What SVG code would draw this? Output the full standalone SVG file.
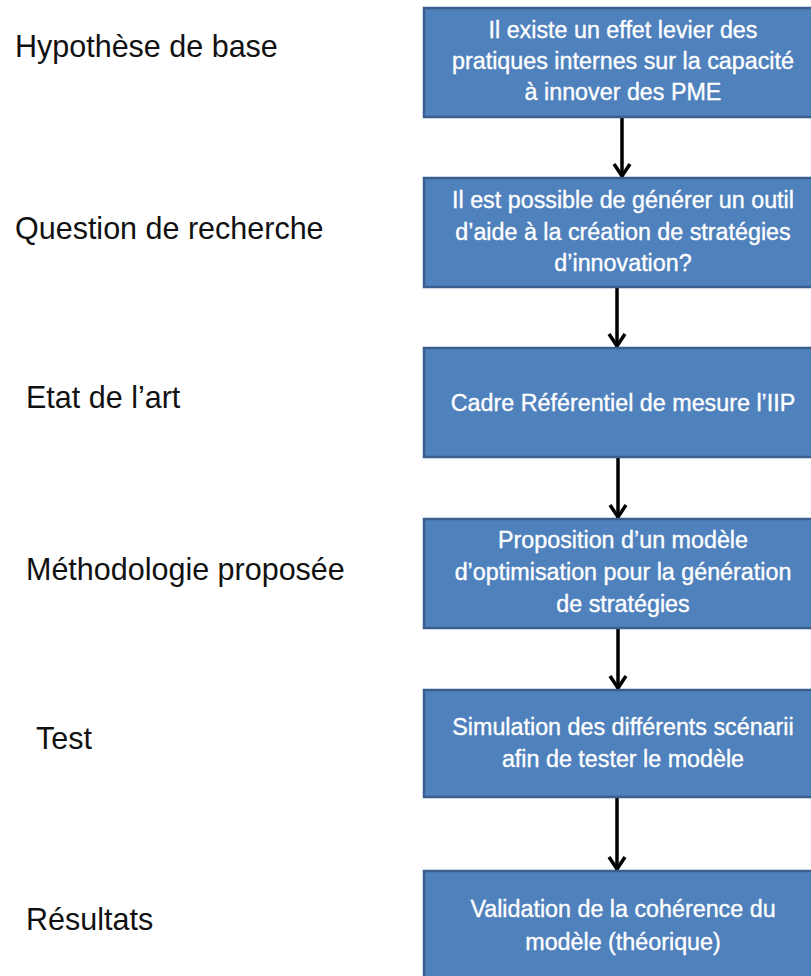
<svg xmlns="http://www.w3.org/2000/svg" width="811" height="976" viewBox="0 0 811 976">
<defs>
<style>
.lbl{font-family:"Liberation Sans",Arial,sans-serif;font-size:30.5px;fill:#111;}
.box{fill:#4F81BD;stroke:#3A5F8E;stroke-width:2.5;}
.bt{font-family:"Liberation Sans",Arial,sans-serif;font-size:23.3px;fill:#fff;stroke:#fff;stroke-width:0.35;text-anchor:middle;}
.conn{stroke:#000;stroke-width:3.5;fill:none;marker-end:url(#ah);}
</style>
<marker id="ah" markerUnits="userSpaceOnUse" viewBox="0 0 16 20" refX="15" refY="10" markerWidth="16" markerHeight="20" orient="auto">
<path d="M2 2 L14 10 L2 18" fill="none" stroke="#000" stroke-width="3.5"/>
</marker>
</defs>
<rect width="811" height="976" fill="#fff"/>
<g id="labels">
<text class="lbl" x="15" y="57">Hypothèse de base</text>
<text class="lbl" x="15" y="239">Question de recherche</text>
<text class="lbl" x="26" y="408">Etat de l’art</text>
<text class="lbl" x="26" y="580">Méthodologie proposée</text>
<text class="lbl" x="36" y="749">Test</text>
<text class="lbl" x="26" y="930">Résultats</text>
</g>
<g id="connectors">
<line class="conn" x1="622" y1="118" x2="622" y2="177"/>
<line class="conn" x1="617" y1="288" x2="617" y2="347"/>
<line class="conn" x1="618" y1="458" x2="618" y2="518"/>
<line class="conn" x1="618" y1="629" x2="618" y2="689"/>
<line class="conn" x1="617" y1="798" x2="617" y2="870"/>
</g>
<g id="n1">
<rect class="box" x="424" y="8" width="400" height="109"/>
<text class="bt" x="623" y="38">Il existe un effet levier des</text>
<text class="bt" x="623" y="69">pratiques internes sur la capacité</text>
<text class="bt" x="623" y="100">à innover des PME</text>
</g>
<g id="n2">
<rect class="box" x="424" y="178" width="400" height="109"/>
<text class="bt" x="623" y="208">Il est possible de générer un outil</text>
<text class="bt" x="623" y="240">d’aide à la création de stratégies</text>
<text class="bt" x="623" y="271">d’innovation?</text>
</g>
<g id="n3">
<rect class="box" x="424" y="348" width="400" height="109"/>
<text class="bt" x="623" y="411">Cadre Référentiel de mesure l’IIP</text>
</g>
<g id="n4">
<rect class="box" x="424" y="519" width="400" height="109"/>
<text class="bt" x="623" y="548">Proposition d’un modèle</text>
<text class="bt" x="623" y="580">d’optimisation pour la génération</text>
<text class="bt" x="623" y="612">de stratégies</text>
</g>
<g id="n5">
<rect class="box" x="424" y="690" width="400" height="107"/>
<text class="bt" x="623" y="735">Simulation des différents scénarii</text>
<text class="bt" x="623" y="767">afin de tester le modèle</text>
</g>
<g id="n6">
<rect class="box" x="424" y="871" width="400" height="110"/>
<text class="bt" x="623" y="917">Validation de la cohérence du</text>
<text class="bt" x="623" y="950">modèle (théorique)</text>
</g>
</svg>
